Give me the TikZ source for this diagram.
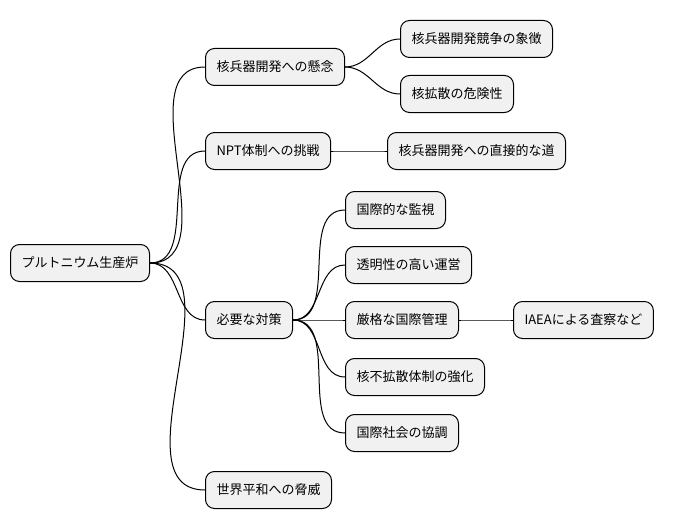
\documentclass[tikz,border=0pt]{standalone}
\usepackage{fontspec}
\newfontfamily\jp{Noto Sans CJK JP}
\definecolor{boxfill}{HTML}{F1F1F1}
\begin{document}
\begin{tikzpicture}[x=1pt,y=-1pt,
  mm/.style={draw=black,line width=1pt,fill=boxfill,rounded corners=9pt,minimum height=37pt,inner xsep=11pt,anchor=west,font=\jp\fontsize{13}{15}\selectfont},
  ln/.style={line width=1pt}]
\useasboundingbox (0,0) rectangle (675,527);
\node[mm] (r) at (10,263) {プルトニウム生産炉};
\node[mm] (a) at (205,67) {核兵器開発への懸念};
\node[mm] (a1) at (400,39) {核兵器開発競争の象徴};
\node[mm] (a2) at (400,94) {核拡散の危険性};
\node[mm] (b) at (205,151) {NPT体制への挑戦};
\node[mm] (b1) at (387,151) {核兵器開発への直接的な道};
\node[mm] (c) at (205,320) {必要な対策};
\node[mm] (c1) at (345,210) {国際的な監視};
\node[mm] (c2) at (345,265) {透明性の高い運営};
\node[mm] (c3) at (345,320) {厳格な国際管理};
\node[mm] (c31) at (513,320) {IAEAによる査察など};
\node[mm] (c4) at (345,377) {核不拡散体制の強化};
\node[mm] (c5) at (345,433) {国際社会の協調};
\node[mm] (d) at (205,490) {世界平和への脅威};
\foreach \p/\c in {r/a,r/b,r/c,r/d,a/a1,a/a2,b/b1,c/c1,c/c2,c/c3,c/c4,c/c5,c3/c31}
  \draw[ln] (\p.east) to[out=0,in=180] (\c.west);
\end{tikzpicture}
\end{document}
